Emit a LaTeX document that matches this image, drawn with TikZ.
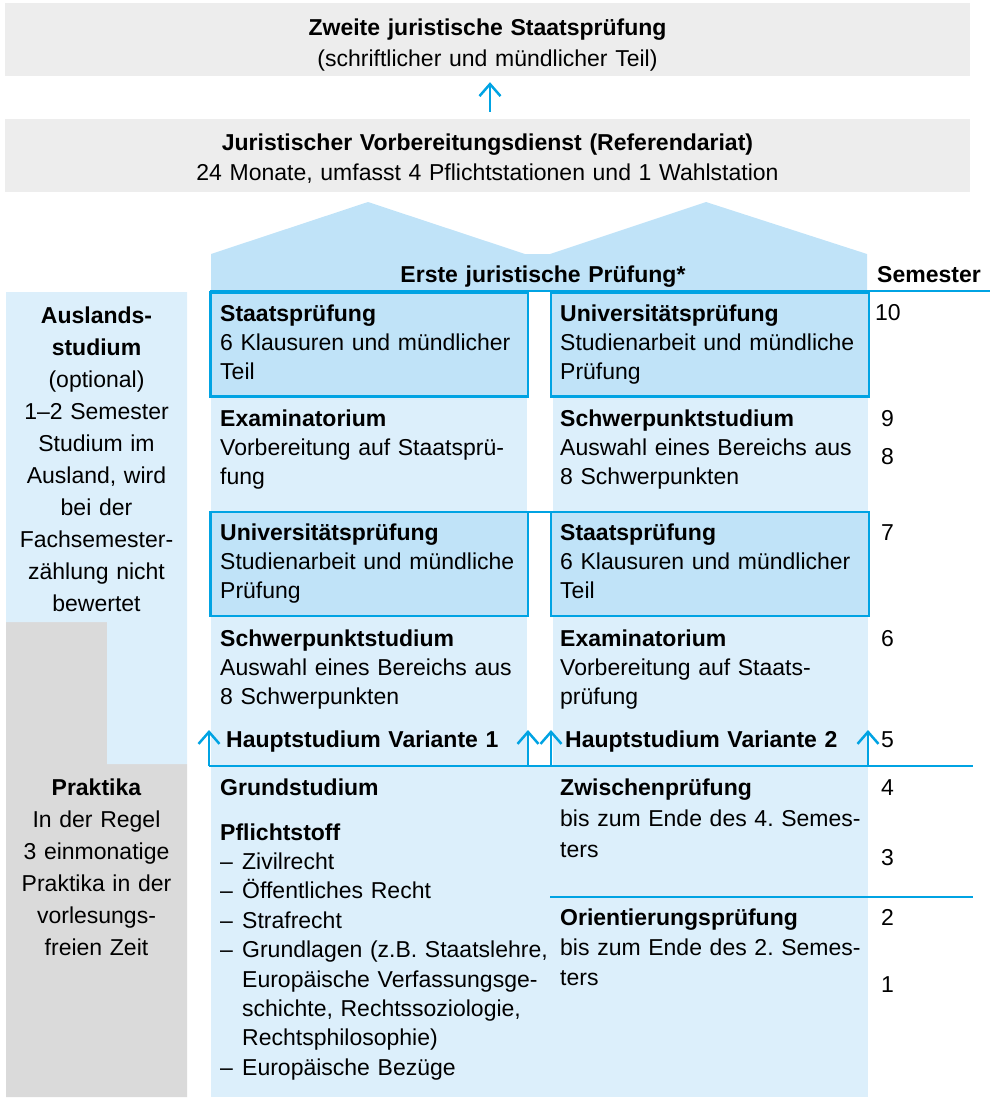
\documentclass[tikz,border=0pt]{standalone}
\usepackage{fontspec}
\setmainfont{Liberation Sans}
\usetikzlibrary{arrows.meta}
\definecolor{grau}{RGB}{237,237,237}
\definecolor{praktgrau}{RGB}{218,218,218}
\definecolor{hausblau}{RGB}{192,227,248}
\definecolor{hellblau}{RGB}{220,239,251}
\definecolor{linienblau}{RGB}{0,163,227}
\newcommand{\strich}{\makebox[22pt][l]{–}}
\newcommand{\einzug}{\hspace*{22pt}}
\begin{document}
\frenchspacing
\begin{tikzpicture}[x=1pt,y=-1pt,
    grauflaeche/.style={fill=grau,inner sep=0pt,minimum width=965pt,minimum height=73pt},
    titel/.style={anchor=base,inner sep=0pt,text width=900pt,align=center,font=\fontsize{23}{#1}\selectfont},
    titel/.default=31pt,
    zelle/.style={anchor=base west,inner sep=0pt,text width=#1,align=left,font=\fontsize{23}{29}\selectfont},
    zelle/.default=340pt,
    mitte/.style={anchor=base,inner sep=0pt,text width=181pt,align=center,font=\fontsize{23}{32}\selectfont},
    zahl/.style={anchor=base west,inner sep=0pt,font=\fontsize{23}{29}\selectfont},
    kasten/.style={fill=hausblau,draw=linienblau,line width=2.5pt},
    linie/.style={draw=linienblau,line width=2.5pt},
    pfeil/.style={linie,-{Straight Barb[length=12pt,width=21pt]}}]
  \useasboundingbox (0,0) rectangle (994,1098);
  \node[grauflaeche] (zweite) at (487.5,39.5) {};
  \node[grauflaeche] (referendariat) at (487.5,155.5) {};
  \node[titel] (zweitetext) at (487.5,35) {\textbf{Zweite juristische Staatsprüfung}\\(schriftlicher und mündlicher Teil)};
  \node[titel=30pt] (reftext) at (487.5,150) {\textbf{Juristischer Vorbereitungsdienst (Referendariat)}\\24 Monate, umfasst 4 Pflichtstationen und 1 Wahlstation};
  \fill[hausblau] (211,291) -- (211,254) -- (368,202) -- (525,254) -- (550,254) -- (706,202) -- (867,254) -- (867,291) -- cycle;
  \fill[praktgrau] (6,622) -- (107,622) -- (107,764) -- (187,764) -- (187,1097) -- (6,1097) -- cycle;
  \fill[hellblau] (6,292) -- (187,292) -- (187,764) -- (107,764) -- (107,622) -- (6,622) -- cycle;
  \fill[hellblau] (211,397) rectangle (527,512);
  \fill[hellblau] (553,397) rectangle (867.5,512);
  \fill[hellblau] (211,616) rectangle (527,766);
  \fill[hellblau] (553,616) rectangle (867.5,766);
  \fill[hellblau] (211,766) rectangle (867.5,1097);
  \filldraw[kasten] (210.5,292.5) rectangle (528,396.5);
  \filldraw[kasten] (551,292.5) rectangle (869,396.5);
  \filldraw[kasten] (210.5,512) rectangle (528,616);
  \filldraw[kasten] (551,512) rectangle (869,616);
  \draw[linie] (210,291) -- (990,291);
  \draw[linie] (528,512) -- (551,512);
  \draw[linie] (550,897) -- (973,897);
  \node[titel] (erste) at (543,282) {\textbf{Erste juristische Prüfung*}};
  \node[zahl] (semester) at (877,282) {\textbf{Semester}};
  \node[zelle] (staatL) at (220,321) {\textbf{Staatsprüfung}\\6 Klausuren und mündlicher\\Teil};
  \node[zelle] (uniR) at (560,321) {\textbf{Universitätsprüfung}\\Studienarbeit und mündliche\\Prüfung};
  \node[zelle] (examL) at (220,426) {\textbf{Examinatorium}\\Vorbereitung auf Staatsprü-\\fung};
  \node[zelle] (schwerR) at (560,426) {\textbf{Schwerpunktstudium}\\Auswahl eines Bereichs aus\\8 Schwerpunkten};
  \node[zelle] (uniL) at (220,540) {\textbf{Universitätsprüfung}\\Studienarbeit und mündliche\\Prüfung};
  \node[zelle] (staatR) at (560,540) {\textbf{Staatsprüfung}\\6 Klausuren und mündlicher\\Teil};
  \node[zelle] (schwerL) at (220,646) {\textbf{Schwerpunktstudium}\\Auswahl eines Bereichs aus\\8 Schwerpunkten};
  \node[zelle] (examR) at (560,646) {\textbf{Examinatorium}\\Vorbereitung auf Staats-\\prüfung};
  \node[zelle] (hauptA) at (226,747) {\textbf{Hauptstudium Variante 1}};
  \node[zelle] (hauptB) at (565,747) {\textbf{Hauptstudium Variante 2}};
  \node[zelle,font=\fontsize{23}{29.4}\selectfont] (grundstudium) at (220,795) {\textbf{Grundstudium}\\[15.6pt]\textbf{Pflichtstoff}\\\strich Zivilrecht\\\strich Öffentliches Recht\\\strich Strafrecht\\\strich Grundlagen (z.B. Staatslehre,\\\einzug Europäische Verfassungsge-\\\einzug schichte, Rechtssoziologie,\\\einzug Rechtsphilosophie)\\\strich Europäische Bezüge};
  \node[zelle,font=\fontsize{23}{31}\selectfont] (zwischen) at (560,795) {\textbf{Zwischenprüfung}\\bis zum Ende des 4. Semes-\\ters};
  \node[zelle,font=\fontsize{23}{30}\selectfont] (orient) at (560,925) {\textbf{Orientierungsprüfung}\\bis zum Ende des 2. Semes-\\ters};
  \node[mitte] (ausland) at (96.5,323) {\textbf{Auslands-}\\\textbf{studium}\\(optional)\\1–2 Semester\\Studium im\\Ausland, wird\\bei der\\Fachsemester-\\zählung nicht\\bewertet};
  \node[mitte] (praktika) at (96.5,795) {\textbf{Praktika}\\In der Regel\\3 einmonatige\\Praktika in der\\vorlesungs-\\freien Zeit};
  \node[zahl] (sem10) at (875,320) {10};
  \foreach \s/\y in {9/426,8/464,7/540,6/646,5/747,4/795,3/865,2/925,1/992}
    \node[zahl] (sem\s) at (881,\y) {\s};
  \foreach \x/\n in {209/a,528/b,551/c,868/d} {
    \coordinate (fuss\n) at (\x,766);
    \coordinate (spitze\n) at (\x,730);
  }
  \coordinate (rechts) at (973,766);
  \begin{scope}[linie]
    \draw (fussa) to (rechts);
    \draw[pfeil,shorten <=7pt,shorten >=6pt] ([xshift=2.5pt]referendariat.north) to ([xshift=2.5pt]zweite.south);
    \draw[pfeil] (fussa) to (spitzea);
    \draw[pfeil] (fussb) to (spitzeb);
    \draw[pfeil] (fussc) to (spitzec);
    \draw[pfeil] (fussd) to (spitzed);
  \end{scope}
\end{tikzpicture}
\end{document}
